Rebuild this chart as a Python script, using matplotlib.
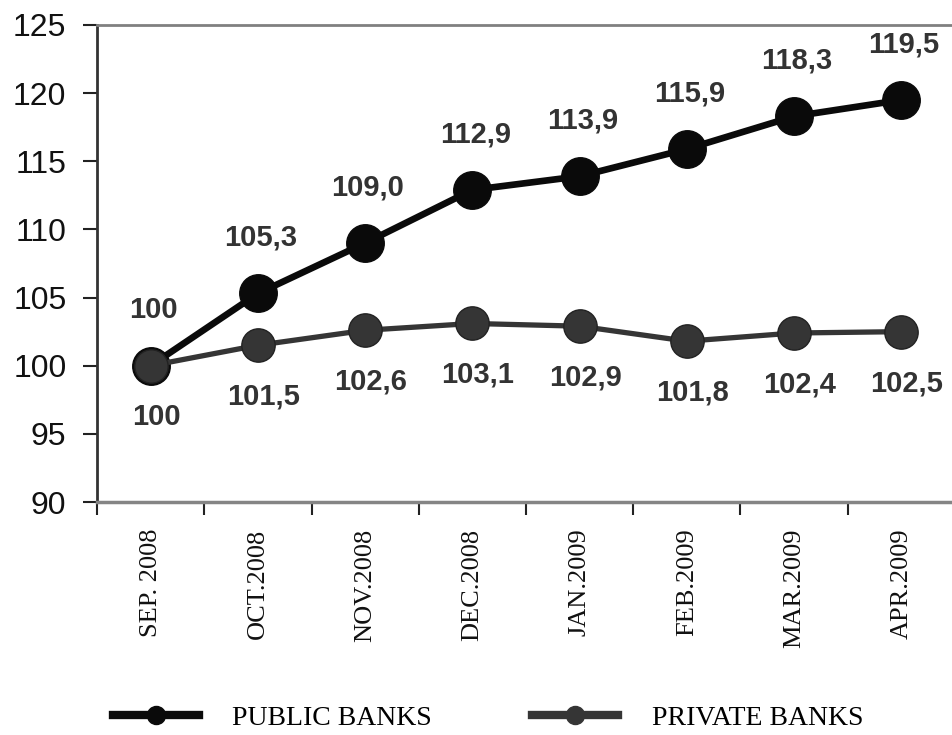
import matplotlib
matplotlib.use("Agg")
import matplotlib.pyplot as plt
from matplotlib.lines import Line2D

# data
months = ["SEP. 2008", "OCT.2008", "NOV.2008", "DEC.2008",
          "JAN.2009", "FEB.2009", "MAR.2009", "APR.2009"]
public_banks = [100, 105.3, 109.0, 112.9, 113.9, 115.9, 118.3, 119.5]
private_banks = [100, 101.5, 102.6, 103.1, 102.9, 101.8, 102.4, 102.5]
public_labels = ["100", "105,3", "109,0", "112,9", "113,9", "115,9", "118,3", "119,5"]
private_labels = ["100", "101,5", "102,6", "103,1", "102,9", "101,8", "102,4", "102,5"]

W, H = 953, 735
fig = plt.figure(figsize=(W / 100, H / 100), dpi=100)
ax = fig.add_axes([97 / W, 1 - 502 / H, 858 / W, 477 / H])

x = list(range(len(months)))
pub_col = "#0a0a0a"
priv_col = "#353535"

ax.plot(x, public_banks, color=pub_col, lw=4.8, marker="o", ms=27,
        mfc=pub_col, mec=pub_col, zorder=3)
ax.plot(x, private_banks, color=priv_col, lw=3.8, marker="o", ms=24,
        mfc=priv_col, mec="#222222", zorder=4)

lab_font = dict(family="Liberation Sans", fontsize=21, fontweight="bold",
                color="#333333", ha="center", va="center")
for xi, v, t in zip(x, public_banks, public_labels):
    ax.annotate(t, (xi, v), xytext=(2, 40), textcoords="offset points", **lab_font)
for xi, v, t in zip(x, private_banks, private_labels):
    ax.annotate(t, (xi, v), xytext=(4, -37), textcoords="offset points", **lab_font)

ax.set_ylim(90, 125)
ax.set_xlim(-0.5, len(months) - 0.5)
ax.set_yticks(range(90, 126, 5))
ax.set_yticklabels([str(v) for v in range(90, 126, 5)],
                   family="Liberation Sans", fontsize=23, color="#111111")

# ticks sit on category boundaries, labels at the centres
ax.set_xticks([i - 0.5 for i in range(len(months) + 1)])
ax.set_xticklabels([])
ax.set_xticks(x, minor=True)
ax.set_xticklabels(months, minor=True, rotation=90, family="Liberation Serif",
                   fontsize=19, color="#111111", va="top", ha="center")
ax.tick_params(axis="x", which="minor", length=0, pad=19)
ax.tick_params(axis="x", which="major", length=9, width=1.5, color="#222222")
ax.tick_params(axis="y", length=10, width=1.5, color="#222222", pad=12)

ax.spines["right"].set_visible(False)
ax.spines["top"].set_color("#808080")
ax.spines["top"].set_linewidth(2)
ax.spines["bottom"].set_color("#858585")
ax.spines["bottom"].set_linewidth(2.5)
ax.spines["left"].set_color("#333333")
ax.spines["left"].set_linewidth(2)

handles = [
    Line2D([], [], color=pub_col, lw=6, marker="o", ms=13, mfc=pub_col, mec=pub_col),
    Line2D([], [], color=priv_col, lw=6, marker="o", ms=13, mfc=priv_col, mec=priv_col),
]
fig.legend(handles, ["PUBLIC BANKS", "PRIVATE BANKS"], loc="center left",
           bbox_to_anchor=(113 / W, 1 - 718 / H), ncol=2, frameon=False,
           borderpad=0, borderaxespad=0, handlelength=3.1, handletextpad=1.2,
           columnspacing=3.6, prop=dict(family="Liberation Serif", size=20))

fig.savefig("out.png", dpi=100)
